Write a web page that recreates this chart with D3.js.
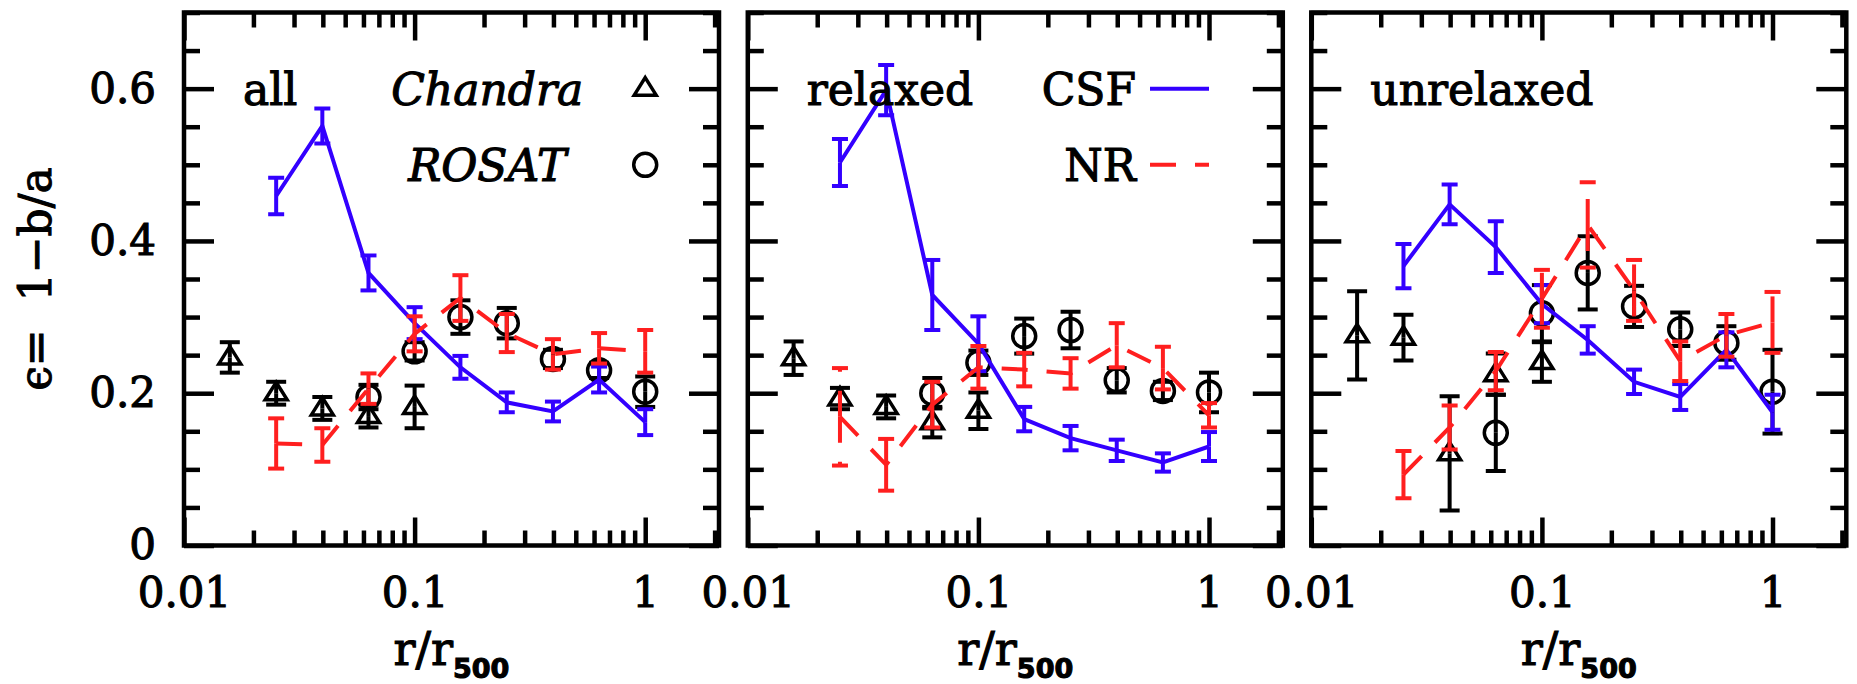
<!DOCTYPE html>
<html>
<head>
<meta charset="utf-8">
<style>
  body { margin: 0; background: #fff; }
  svg text { font-family: "DejaVu Serif", serif; fill: #000; stroke: #000; stroke-width: 1.1px; }
</style>
<script src="https://cdn.jsdelivr.net/npm/d3@7/dist/d3.min.js"></script>
</head>
<body>
<svg width="1857" height="684"></svg>
<script>
// radial bins, r/r500
var simR = [0.0251, 0.0398, 0.0631, 0.1, 0.158, 0.251, 0.398, 0.631, 1.0];
var chandraR = [0.0158, 0.0251, 0.0398, 0.0631, 0.1];
var rosatR = [0.0631, 0.1, 0.158, 0.251, 0.398, 0.631, 1.0];

// all
var csfAll = [0.459, 0.551, 0.358, 0.292, 0.234, 0.188, 0.176, 0.218, 0.162];
var csfAllErr = [0.024, 0.023, 0.023, 0.021, 0.015, 0.013, 0.013, 0.017, 0.017];
var nrAll = [0.134, 0.132, 0.206, 0.278, 0.325, 0.279, 0.251, 0.259, 0.255];
var nrAllErr = [0.033, 0.022, 0.02, 0.023, 0.03, 0.025, 0.02, 0.02, 0.028];
var chandraAll = [0.247, 0.2, 0.18, 0.17, 0.182];
var chandraAllErr = [0.02, 0.015, 0.015, 0.015, 0.028];
var rosatAll = [0.195, 0.255, 0.3, 0.292, 0.245, 0.23, 0.202];
var rosatAllErr = [0.016, 0.012, 0.022, 0.02, 0.012, 0.01, 0.02];

// relaxed
var csfRel = [0.503, 0.598, 0.329, 0.265, 0.166, 0.141, 0.125, 0.109, 0.13];
var csfRelErr = [0.031, 0.033, 0.046, 0.036, 0.016, 0.016, 0.014, 0.012, 0.019];
var nrRel = [0.169, 0.106, 0.185, 0.234, 0.231, 0.226, 0.263, 0.233, 0.171];
var nrRelErr = [0.064, 0.034, 0.03, 0.028, 0.022, 0.02, 0.029, 0.028, 0.016];
var chandraRel = [0.246, 0.193, 0.182, 0.162, 0.177];
var chandraRelErr = [0.022, 0.014, 0.015, 0.02, 0.024];
var rosatRel = [0.2, 0.24, 0.275, 0.283, 0.217, 0.203, 0.201];
var rosatRelErr = [0.02, 0.016, 0.023, 0.024, 0.016, 0.012, 0.026];

// unrelaxed
var csfUnrel = [0.367, 0.448, 0.392, 0.317, 0.27, 0.215, 0.195, 0.257, 0.175];
var csfUnrelErr = [0.029, 0.026, 0.034, 0.025, 0.018, 0.016, 0.017, 0.023, 0.023];
var nrUnrel = [0.093, 0.155, 0.229, 0.324, 0.421, 0.335, 0.242, 0.276, 0.293];
var nrUnrelErr = [0.031, 0.029, 0.025, 0.038, 0.056, 0.04, 0.026, 0.028, 0.04];
var chandraUnrel = [0.276, 0.273, 0.121, 0.225, 0.241];
var chandraUnrelErr = [0.058, 0.03, 0.075, 0.027, 0.026];
var rosatUnrel = [0.148, 0.305, 0.358, 0.314, 0.284, 0.266, 0.202];
var rosatUnrelErr = [0.05, 0.037, 0.048, 0.027, 0.022, 0.022, 0.055];

var panelNames = ["all", "relaxed", "unrelaxed"];
var xTickValues = [0.01, 0.1, 1];
var xTickLabels = ["0.01", "0.1", "1"];
var yTickValues = [0, 0.2, 0.4, 0.6];
var yTickLabels = ["0", "0.2", "0.4", "0.6"];

var panels = [
  {name: panelNames[0], csf: csfAll, csfErr: csfAllErr, nr: nrAll, nrErr: nrAllErr,
   ch: chandraAll, chErr: chandraAllErr, ro: rosatAll, roErr: rosatAllErr},
  {name: panelNames[1], csf: csfRel, csfErr: csfRelErr, nr: nrRel, nrErr: nrRelErr,
   ch: chandraRel, chErr: chandraRelErr, ro: rosatRel, roErr: rosatRelErr},
  {name: panelNames[2], csf: csfUnrel, csfErr: csfUnrelErr, nr: nrUnrel, nrErr: nrUnrelErr,
   ch: chandraUnrel, chErr: chandraUnrelErr, ro: rosatUnrel, roErr: rosatUnrelErr}
];

var BLUE = "#3300ff", RED = "#ff1f1f";
var DASH = "26,19";
var W = 535, H = 533, top0 = 12.5;
var lefts = [184, 747.8, 1311.3];

var svg = d3.select("svg");

var x = d3.scaleLog().domain([0.01, Math.pow(10, 0.32)]).range([0, W]);
var y = d3.scaleLinear().domain([0, 0.7]).range([H, 0]);

var xMinor = x.ticks().filter(function(d) { return xTickValues.indexOf(d) < 0; });
var yMinor = d3.range(0, 0.701, 0.05).filter(function(d) {
  return Math.abs(d * 5 - Math.round(d * 5)) > 1e-6;
});

function styleAxis(g) {
  g.select(".domain").remove();
  g.selectAll("line").attr("stroke", "#000").attr("stroke-width", 4.5);
  g.selectAll("text").attr("font-family", "DejaVu Serif").attr("font-size", 42).attr("fill", "#000");
}

function errorBars(g, xs, vals, errs, color, cap, dashed) {
  var eb = g.append("g").attr("stroke", color).attr("stroke-width", 4).attr("fill", "none");
  vals.forEach(function(v, i) {
    var px = x(xs[i]), cy = y(v), t = y(v + errs[i]), b = y(v - errs[i]);
    // drawn from the centre outwards, so the dash pattern starts at the point
    [t, b].forEach(function(end) {
      eb.append("line").attr("x1", px).attr("x2", px).attr("y1", cy).attr("y2", end)
        .attr("stroke-dasharray", dashed ? DASH : null);
      eb.append("line").attr("x1", px - cap / 2).attr("x2", px + cap / 2)
        .attr("y1", end).attr("y2", end);
    });
  });
}

var tri = "M0,-11L11,6.5L-11,6.5Z";

panels.forEach(function(p, k) {
  var g = svg.append("g").attr("transform", "translate(" + lefts[k] + "," + top0 + ")");
  var clipId = "clip" + k;
  g.append("clipPath").attr("id", clipId).append("rect").attr("width", W).attr("height", H);

  // ticks, all pointing inwards
  g.append("g").attr("transform", "translate(0," + H + ")")
    .call(d3.axisBottom(x).tickValues(xTickValues).tickSizeInner(-28).tickSizeOuter(0)
      .tickPadding(32).tickFormat(function(d, i) { return xTickLabels[i]; }))
    .call(styleAxis);
  g.append("g").attr("transform", "translate(0," + H + ")")
    .call(d3.axisBottom(x).tickValues(xMinor).tickSizeInner(-15).tickSizeOuter(0).tickFormat(""))
    .call(styleAxis);
  g.append("g")
    .call(d3.axisTop(x).tickValues(xTickValues).tickSizeInner(-28).tickSizeOuter(0).tickFormat(""))
    .call(styleAxis);
  g.append("g")
    .call(d3.axisTop(x).tickValues(xMinor).tickSizeInner(-15).tickSizeOuter(0).tickFormat(""))
    .call(styleAxis);
  g.append("g")
    .call(d3.axisLeft(y).tickValues(yTickValues).tickSizeInner(-30).tickSizeOuter(0)
      .tickPadding(28).tickFormat(function(d, i) { return k === 0 ? yTickLabels[i] : ""; }))
    .call(styleAxis);
  g.append("g")
    .call(d3.axisLeft(y).tickValues(yMinor).tickSizeInner(-16).tickSizeOuter(0).tickFormat(""))
    .call(styleAxis);
  g.append("g").attr("transform", "translate(" + W + ",0)")
    .call(d3.axisRight(y).tickValues(yTickValues).tickSizeInner(-30).tickSizeOuter(0).tickFormat(""))
    .call(styleAxis);
  g.append("g").attr("transform", "translate(" + W + ",0)")
    .call(d3.axisRight(y).tickValues(yMinor).tickSizeInner(-16).tickSizeOuter(0).tickFormat(""))
    .call(styleAxis);

  var plot = g.append("g").attr("clip-path", "url(#" + clipId + ")");

  // observations
  errorBars(plot, chandraR, p.ch, p.chErr, "#000", 20, false);
  plot.selectAll(".tri").data(p.ch).enter().append("path")
    .attr("d", tri)
    .attr("transform", function(d, i) { return "translate(" + x(chandraR[i]) + "," + y(d) + ")"; })
    .attr("fill", "none").attr("stroke", "#000").attr("stroke-width", 3.5);
  errorBars(plot, rosatR, p.ro, p.roErr, "#000", 20, false);
  plot.selectAll(".circ").data(p.ro).enter().append("circle")
    .attr("cx", function(d, i) { return x(rosatR[i]); })
    .attr("cy", function(d) { return y(d); })
    .attr("r", 11.5)
    .attr("fill", "none").attr("stroke", "#000").attr("stroke-width", 3.5);

  // simulations
  var line = d3.line().x(function(d, i) { return x(simR[i]); }).y(function(d) { return y(d); });
  errorBars(plot, simR, p.csf, p.csfErr, BLUE, 16, false);
  plot.append("path").datum(p.csf).attr("d", line)
    .attr("fill", "none").attr("stroke", BLUE).attr("stroke-width", 4);
  errorBars(plot, simR, p.nr, p.nrErr, RED, 16, true);
  plot.append("path").datum(p.nr).attr("d", line)
    .attr("fill", "none").attr("stroke", RED).attr("stroke-width", 4)
    .attr("stroke-dasharray", DASH);

  // frame
  g.append("rect").attr("width", W).attr("height", H)
    .attr("fill", "none").attr("stroke", "#000").attr("stroke-width", 4.5);

  // panel name
  g.append("text").attr("x", 59).attr("y", y(0.6) + 16)
    .attr("font-size", 44).text(p.name);

  // x label
  var xl = g.append("text").attr("x", W / 2).attr("y", 652.5)
    .attr("text-anchor", "middle").attr("font-size", 46);
  xl.append("tspan").text("r/r");
  xl.append("tspan").attr("dy", 13).attr("font-family", "DejaVu Sans")
    .attr("font-weight", "bold").attr("font-size", 27).text("500");

  // legends
  if (k === 0) {
    g.append("text").attr("x", x(1) - 158).attr("y", y(0.6) + 16)
      .attr("text-anchor", "middle").attr("font-style", "italic").attr("font-size", 44).text("Chandra");
    g.append("text").attr("x", x(1) - 158).attr("y", y(0.5) + 16)
      .attr("text-anchor", "middle").attr("font-style", "italic").attr("font-size", 44).text("ROSAT");
    g.append("path").attr("d", tri)
      .attr("transform", "translate(" + x(1) + "," + y(0.6) + ")")
      .attr("fill", "none").attr("stroke", "#000").attr("stroke-width", 3.5);
    g.append("circle").attr("cx", x(1)).attr("cy", y(0.5)).attr("r", 11.5)
      .attr("fill", "none").attr("stroke", "#000").attr("stroke-width", 3.5);
  }
  if (k === 1) {
    g.append("text").attr("x", x(1) - 73).attr("y", y(0.6) + 16)
      .attr("text-anchor", "end").attr("font-size", 44).text("CSF");
    g.append("text").attr("x", x(1) - 73).attr("y", y(0.5) + 16)
      .attr("text-anchor", "end").attr("font-size", 44).text("NR");
    g.append("line").attr("x1", x(1) - 59).attr("x2", x(1)).attr("y1", y(0.6)).attr("y2", y(0.6))
      .attr("stroke", BLUE).attr("stroke-width", 4);
    g.append("line").attr("x1", x(1) - 59).attr("x2", x(1)).attr("y1", y(0.5)).attr("y2", y(0.5))
      .attr("stroke", RED).attr("stroke-width", 4).attr("stroke-dasharray", DASH);
  }
});

// y label
svg.append("text").attr("transform", "translate(51," + (top0 + H / 2) + ") rotate(-90)")
  .attr("text-anchor", "middle").attr("font-size", 44)
  .text("\u03f5=  1\u2212b/a").attr("xml:space", "preserve").style("white-space", "pre");
</script>
</body>
</html>
